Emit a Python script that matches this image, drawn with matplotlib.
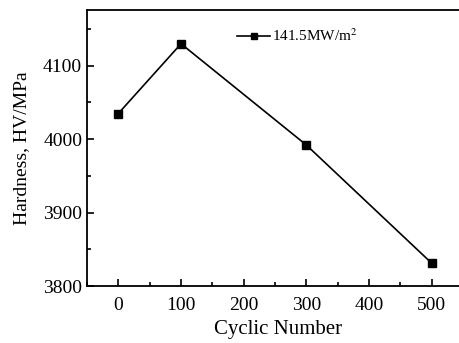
import matplotlib
matplotlib.use('Agg')

import matplotlib.pyplot as plt
from matplotlib.ticker import MultipleLocator

cycles = [0, 100, 300, 500]
hardness = [4035, 4130, 3992, 3831]
seriesLabel = "141.5MW/m$^2$"

plt.rcParams['font.family'] = ['Liberation Serif', 'DejaVu Serif']
plt.rcParams['mathtext.fontset'] = 'stix'

fig = plt.figure(figsize=(4.6, 3.43), dpi=100)
# right spine falls just outside the image, as in the cropped original
ax = fig.add_axes([87/460, 1 - 286/343, (470 - 87)/460, (286 - 10)/343])

ax.plot(cycles, hardness, color='black', linewidth=1.2, marker='s',
        markersize=6.3, label=seriesLabel)

ax.set_xlim(-50, 561)
ax.set_ylim(3800, 4176)
ax.xaxis.set_major_locator(MultipleLocator(100))
ax.xaxis.set_minor_locator(MultipleLocator(50))
ax.yaxis.set_major_locator(MultipleLocator(100))
ax.yaxis.set_minor_locator(MultipleLocator(50))
ax.tick_params(which='both', direction='in', labelsize=14, width=1.2)
ax.tick_params(which='major', length=5)
ax.tick_params(which='minor', length=3)
ax.tick_params(axis='x', pad=8)
for s in ax.spines.values():
    s.set_linewidth(1.3)

ax.set_xlabel("Cyclic Number", fontsize=15, labelpad=4)
ax.set_ylabel("Hardness, HV/MPa", fontsize=14, labelpad=9)

leg = ax.legend(loc='upper left', bbox_to_anchor=(0.355, 0.985), frameon=False,
                fontsize=11, handlelength=2.2, handletextpad=0.1,
                markerscale=0.7)

fig.savefig("out.png", dpi=100)
